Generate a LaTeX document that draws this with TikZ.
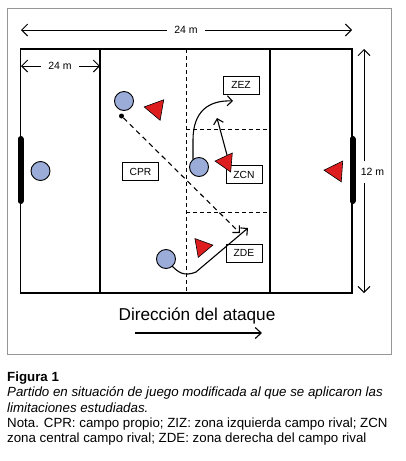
\documentclass[tikz,border=0pt]{standalone}
\usepackage{fontspec}
\setmainfont{Liberation Sans}
\usetikzlibrary{arrows.meta,shapes.geometric}
\definecolor{pblue}{RGB}{155,172,216}
\definecolor{pred}{RGB}{222,30,30}
\definecolor{framegray}{RGB}{150,150,150}
\begin{document}
\begin{tikzpicture}[x=1pt,y=-1pt,
  player/.style={circle,draw=black,line width=0.9pt,fill=pblue,minimum size=19pt,inner sep=0pt},
  rival/.style={regular polygon,regular polygon sides=3,draw=black,line width=0.6pt,fill=pred,inner sep=0pt,minimum size=#1},
  rival/.default=24pt,
  zonebox/.style={draw=black,line width=0.6pt,fill=white,minimum width=36pt,minimum height=18pt,inner sep=0pt,font=\fontsize{10.3}{11}\selectfont},
  fieldline/.style={line width=1.3pt},
  zoneline/.style={line width=1pt,dash pattern=on 4pt off 3pt},
  dimarrow/.style={line width=1pt,{Straight Barb[length=6pt,width=12pt]}-{Straight Barb[length=6pt,width=12pt]}},
  dimlabel/.style={fill=white,inner xsep=7pt,inner ysep=5pt,font=\fontsize{10.5}{11}\selectfont},
  vdimlabel/.style={fill=white,inner xsep=1pt,inner ysep=7pt,font=\fontsize{10.5}{11}\selectfont},
  move/.style={line width=1.1pt,-{Straight Barb[length=5pt,width=10pt]}},
  goal/.style={line width=6pt,line cap=round},
  caption/.style={anchor=base west,inner sep=0pt,font=\fontsize{13.3}{15}\selectfont}
]
\useasboundingbox (0,0) rectangle (405,461);
% outer frame
\draw[framegray,line width=1pt] (7,8) rectangle (391,354);
% field
\coordinate (fNW) at (20.7,49);
\coordinate (fSE) at (352,293);
\draw[fieldline] (fNW) rectangle (fSE);
\draw[fieldline] (100,49) -- (100,293);
\draw[fieldline] (270,49) -- (270,293);
\draw[zoneline] (186,49) -- (186,293);
\draw[zoneline] (186,129) -- (270,129);
\draw[zoneline] (186,212) -- (270,212);
% goals
\draw[goal] (20.5,139) -- (20.5,201);
\draw[goal] (352.5,139) -- (352.5,201);
% dimensions
\coordinate (t1) at (21,30); \coordinate (t2) at (352,30);
\draw[dimarrow] (t1) -- (t2);
\node[dimlabel] (tl) at (186,30) {24 m};
\coordinate (s1) at (21,66); \coordinate (s2) at (100,66);
\draw[dimarrow] (s1) -- (s2);
\node[dimlabel] (sl) at (60,66) {24 m};
\coordinate (r1) at (364,49); \coordinate (r2) at (364,293);
\draw[dimarrow] (r1) -- (r2);
\node[vdimlabel] (rl) at (372.5,172) {12 m};
% zone boxes
\node[zonebox] (zez) at (241,85) {ZEZ};
\node[zonebox] (cpr) at (140.5,171.5) {CPR};
\node[zonebox] (zcn) at (244,174.5) {ZCN};
\node[zonebox] (zde) at (244,253) {ZDE};
% players
\node[player] (p1) at (124,101) {};
\node[player] (gk) at (40.5,171) {};
\node[player] (p3) at (199,167) {};
\node[player] (p4) at (166,259) {};
\node[circle,fill=black,minimum size=5pt,inner sep=0pt] (ball) at (121.5,116) {};
% rivals
\node[rival=24pt,rotate=80] (r1t) at (156,109) {};
\node[rival=22pt,rotate=85] (r2t) at (226,162) {};
\node[rival=24pt,rotate=86] (r3t) at (336,171) {};
\node[rival=22pt,rotate=-80] (r4t) at (202,247) {};
% movements
\coordinate (pass) at (240,233);
\draw[move,dash pattern=on 5pt off 4pt] (ball) -- (pass);
\coordinate (run1) at (233,101);
\draw[move] (193,159.5) -- (193,140) .. controls (193,112) and (208,100) .. (run1);
\coordinate (mv2) at (217,118);
\draw[move] (227,155) -- (mv2);
\coordinate (run2) at (248,228);
\draw[move] (172,266) .. controls (178,272) and (184,277) .. (196,272) -- (run2);
% direction
\node[font=\fontsize{17.2}{18}\selectfont,anchor=base,inner sep=0pt] (dir) at (197,320) {Dirección del ataque};
\coordinate (d1) at (135,333); \coordinate (d2) at (262,333);
\draw[line width=1.1pt,-{Straight Barb[length=6pt,width=11pt]}] (d1) -- (d2);
% caption
\node[caption,font=\fontsize{13.3}{15}\selectfont\bfseries] (c0) at (7,381) {Figura 1};
\node[caption,font=\fontsize{13.3}{15}\selectfont\itshape] (c1) at (7,396.5) {Partido en situación de juego modificada al que se aplicaron las};
\node[caption,font=\fontsize{13.3}{15}\selectfont\itshape] (c2) at (7,412) {limitaciones estudiadas.};
\node[caption] (c3) at (7,427) {Nota. CPR: campo propio; ZIZ: zona izquierda campo rival; ZCN};
\node[caption] (c4) at (7,442) {zona central campo rival; ZDE: zona derecha del campo rival};
\end{tikzpicture}
\end{document}
